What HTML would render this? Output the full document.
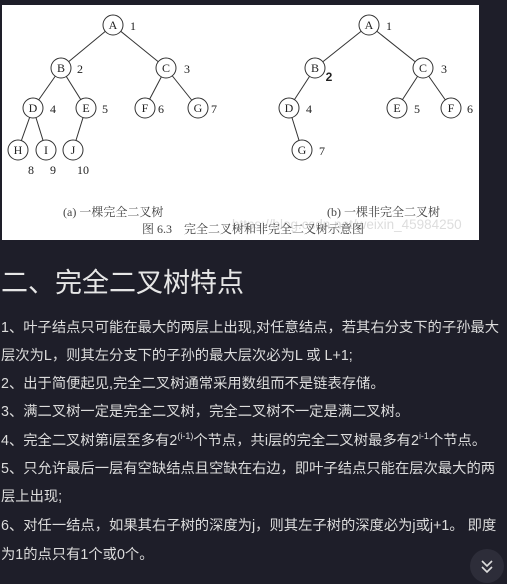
<!DOCTYPE html>
<html><head><meta charset="utf-8"><style>
html,body{margin:0;padding:0;background:#1e1e29;width:507px;height:584px;overflow:hidden}
body{position:relative;font-family:"Liberation Sans","Noto Sans CJK SC",sans-serif}
#img{position:absolute;left:2px;top:5px;width:477px;height:235px;background:#fff}
h2{position:absolute;left:1px;top:264px;margin:0;font-weight:normal;font-size:27px;color:#e6e6e6;line-height:38px;white-space:nowrap}
.ln{position:absolute;left:1px;font-size:14.3px;color:#dcdcdc;white-space:nowrap;line-height:20px}
sup{font-size:9px;vertical-align:6px;line-height:0}
#btn{position:absolute;left:470px;top:549px;width:34px;height:34px;border-radius:50%;background:#2d2d39}
</style></head><body>
<div id="img"></div>
<svg style="position:absolute;left:0;top:0" width="480" height="245" font-family="Liberation Serif,Noto Serif CJK SC,serif">
<g stroke="#333" stroke-width="1" fill="none">
<line x1="113" y1="25" x2="61" y2="68"/><line x1="113" y1="25" x2="166" y2="68"/>
<line x1="61" y1="68" x2="33" y2="108"/><line x1="61" y1="68" x2="86" y2="108"/>
<line x1="166" y1="68" x2="145" y2="108"/><line x1="166" y1="68" x2="198" y2="108"/>
<line x1="33" y1="108" x2="18" y2="150"/><line x1="33" y1="108" x2="46" y2="150"/>
<line x1="86" y1="108" x2="73" y2="150"/>
<line x1="369" y1="25" x2="315" y2="68"/><line x1="369" y1="25" x2="423" y2="68"/>
<line x1="315" y1="68" x2="289" y2="108"/><line x1="289" y1="108" x2="302" y2="150"/>
<line x1="423" y1="68" x2="397" y2="108"/><line x1="423" y1="68" x2="451" y2="108"/>
</g>
<g stroke="#333" fill="#fff">
<circle cx="113" cy="25" r="10"/><circle cx="61" cy="68" r="10"/><circle cx="166" cy="68" r="10"/>
<circle cx="33" cy="108" r="10"/><circle cx="86" cy="108" r="10"/><circle cx="145" cy="108" r="10"/><circle cx="198" cy="108" r="10"/>
<circle cx="18" cy="150" r="10"/><circle cx="46" cy="150" r="10"/><circle cx="73" cy="150" r="10"/>
<circle cx="369" cy="25" r="10"/><circle cx="315" cy="68" r="10"/><circle cx="423" cy="68" r="10"/>
<circle cx="289" cy="108" r="10"/><circle cx="397" cy="108" r="10"/><circle cx="451" cy="108" r="10"/><circle cx="302" cy="150" r="10"/>
</g>
<g font-size="12" fill="#222" text-anchor="middle">
<text x="113" y="29">A</text><text x="61" y="72">B</text><text x="166" y="72">C</text>
<text x="33" y="112">D</text><text x="86" y="112">E</text><text x="145" y="112">F</text><text x="198" y="112">G</text>
<text x="18" y="154">H</text><text x="46" y="154">I</text><text x="73" y="154">J</text>
<text x="369" y="29">A</text><text x="315" y="72">B</text><text x="423" y="72">C</text>
<text x="289" y="112">D</text><text x="397" y="112">E</text><text x="451" y="112">F</text><text x="302" y="154">G</text>
<text x="133" y="30">1</text><text x="80" y="73">2</text><text x="187" y="73">3</text>
<text x="53" y="113">4</text><text x="105" y="113">5</text><text x="161" y="113">6</text><text x="214" y="113">7</text>
<text x="31" y="174">8</text><text x="53" y="174">9</text><text x="83" y="174">10</text>
<text x="389" y="30">1</text><text x="444" y="73">3</text><text x="309" y="113">4</text><text x="417" y="113">5</text><text x="470" y="113">6</text><text x="322" y="155">7</text>
<text x="329" y="81" font-family="Liberation Sans,sans-serif" font-weight="bold">2</text>
</g>
<text x="232" y="229" font-size="13.5" fill="#ddd" font-family="Liberation Sans,sans-serif">https://blog.csdn.net/weixin_45984250</text>
<g font-size="12" fill="#444">
<text x="63" y="216">(a) 一棵完全二叉树</text>
<text x="327" y="216">(b) 一棵非完全二叉树</text>
<text x="142" y="233">图 6.3　完全二叉树和非完全二叉树示意图</text>
</g>
</svg>
<h2>二、完全二叉树特点</h2>
<div class="ln" style="top:318px">1、叶子结点只可能在最大的两层上出现,对任意结点，若其右分支下的子孙最大</div>
<div class="ln" style="top:346px">层次为L，则其左分支下的子孙的最大层次必为L 或 L+1;</div>
<div class="ln" style="top:374px">2、出于简便起见,完全二叉树通常采用数组而不是链表存储。</div>
<div class="ln" style="top:402px">3、满二叉树一定是完全二叉树，完全二叉树不一定是满二叉树。</div>
<div class="ln" style="top:431px">4、完全二叉树第i层至多有2<sup>(i-1)</sup>个节点，共i层的完全二叉树最多有2<sup>i-1</sup>个节点。</div>
<div class="ln" style="top:459px">5、只允许最后一层有空缺结点且空缺在右边，即叶子结点只能在层次最大的两</div>
<div class="ln" style="top:487px">层上出现;</div>
<div class="ln" style="top:516px">6、对任一结点，如果其右子树的深度为j，则其左子树的深度必为j或j+1。 即度</div>
<div class="ln" style="top:545px">为1的点只有1个或0个。</div>
<div id="btn"><svg width="34" height="34"><g stroke="#ddd" stroke-width="1.6" fill="none"><polyline points="12,12 17,17 22,12"/><polyline points="12,18 17,23 22,18"/></g></svg></div>
</body></html>
